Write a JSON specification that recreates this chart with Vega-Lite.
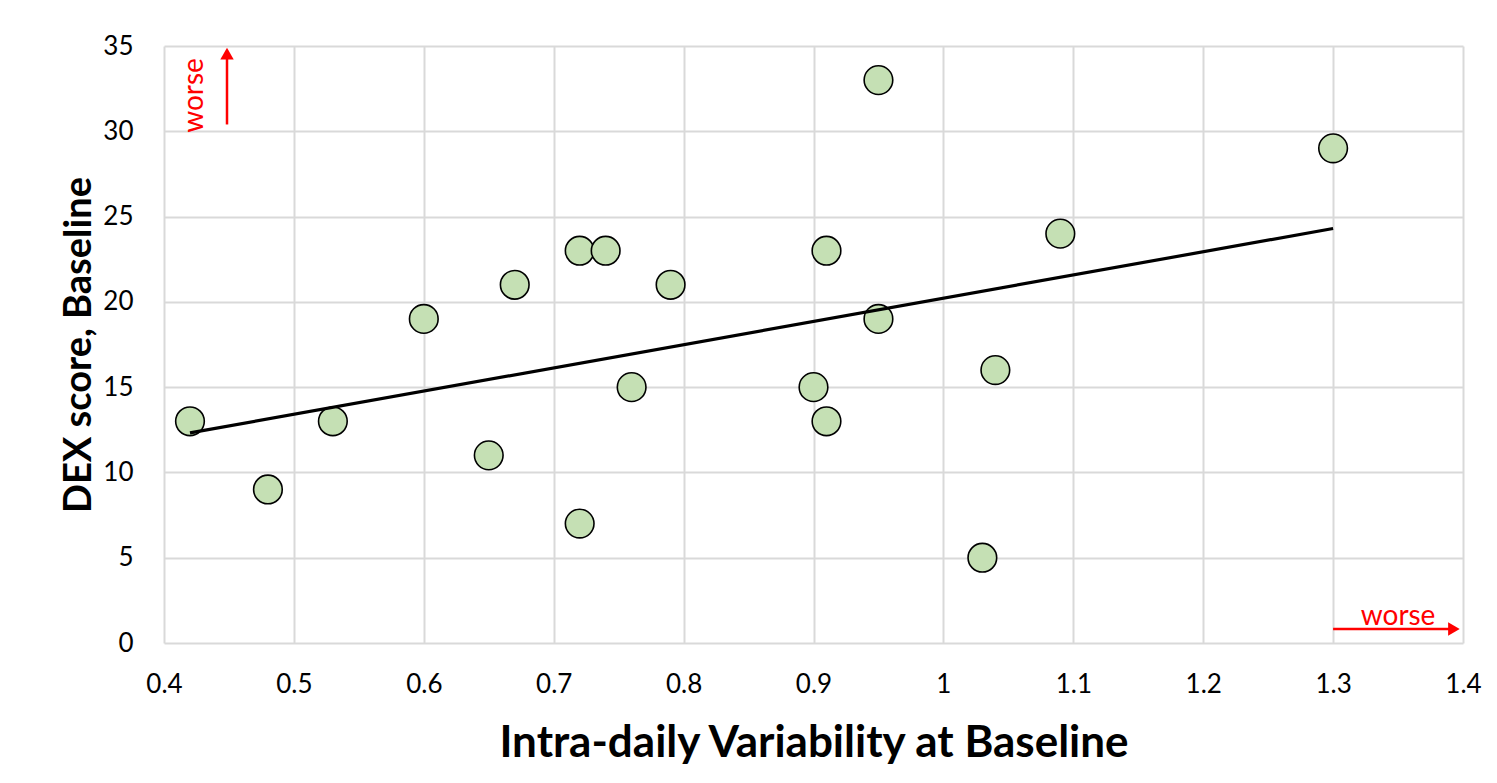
{
  "$schema": "https://vega.github.io/schema/vega-lite/v6.json",
  "autosize": {"type": "none"},
  "width": 1299,
  "height": 597,
  "padding": {"left": 164, "top": 46, "right": 34, "bottom": 140},
  "background": "white",
  "config": {
    "font": "Lato",
    "view": {"stroke": null},
    "axis": {"gridColor": "#d9d9d9", "gridWidth": 2, "domain": false, "ticks": false, "labelColor": "#000000", "titleColor": "#000000", "labelFont": "Lato", "titleFont": "Lato", "labelFontSize": 26, "labelFontWeight": "normal"}
  },
  "datasets": {
    "pts": [
      {"iv": 0.42, "dex": 13}, {"iv": 0.48, "dex": 9}, {"iv": 0.53, "dex": 13},
      {"iv": 0.60, "dex": 19}, {"iv": 0.65, "dex": 11}, {"iv": 0.67, "dex": 21},
      {"iv": 0.72, "dex": 23}, {"iv": 0.72, "dex": 7}, {"iv": 0.74, "dex": 23},
      {"iv": 0.76, "dex": 15}, {"iv": 0.79, "dex": 21}, {"iv": 0.90, "dex": 15},
      {"iv": 0.91, "dex": 23}, {"iv": 0.91, "dex": 13}, {"iv": 0.95, "dex": 33},
      {"iv": 0.95, "dex": 19}, {"iv": 1.03, "dex": 5}, {"iv": 1.04, "dex": 16},
      {"iv": 1.09, "dex": 24}, {"iv": 1.30, "dex": 29}
    ],
    "arrows": [
      {"x1": 0.4485, "y1": 30.4, "x2": 0.4485, "y2": 34.4},
      {"x1": 1.3, "y1": 0.82, "x2": 1.392, "y2": 0.82}
    ],
    "heads": [
      {"x": 0.4485, "y": 34.55, "shape": "triangle-up"},
      {"x": 1.393, "y": 0.82, "shape": "triangle-right"}
    ],
    "labels": [
      {"x": 0.4235, "y": 32.1, "text": "worse", "angle": 270},
      {"x": 1.35, "y": 1.5, "text": "worse", "angle": 0}
    ]
  },
  "layer": [
    {
      "data": {"name": "pts"},
      "mark": {"type": "point", "filled": true, "fill": "#c5e0b4", "stroke": "#000000", "strokeWidth": 1.6, "opacity": 1, "size": 820},
      "encoding": {
        "x": {"field": "iv", "type": "quantitative", "scale": {"domain": [0.4, 1.4], "nice": false, "zero": false}, "axis": {"title": "Intra-daily Variability at Baseline", "titleFontSize": 44, "titleFontWeight": "bold", "titlePadding": 24, "labelPadding": 28, "format": "~g", "values": [0.4, 0.5, 0.6, 0.7, 0.8, 0.9, 1, 1.1, 1.2, 1.3, 1.4], "labelFlush": false}},
        "y": {"field": "dex", "type": "quantitative", "scale": {"domain": [0, 35], "nice": false}, "axis": {"title": "DEX score, Baseline", "titleFontSize": 38, "titleFontWeight": "bold", "titlePadding": 4, "labelPadding": 31, "values": [0, 5, 10, 15, 20, 25, 30, 35], "labelFlush": false}}
      }
    },
    {
      "data": {"name": "pts"},
      "transform": [{"regression": "dex", "on": "iv", "extent": [0.42, 1.3]}],
      "mark": {"type": "line", "color": "#000000", "strokeWidth": 3.2},
      "encoding": {
        "x": {"field": "iv", "type": "quantitative"},
        "y": {"field": "dex", "type": "quantitative"}
      }
    },
    {
      "data": {"name": "arrows"},
      "mark": {"type": "rule", "color": "#ff0000", "strokeWidth": 2.5},
      "encoding": {
        "x": {"field": "x1", "type": "quantitative"},
        "y": {"field": "y1", "type": "quantitative"},
        "x2": {"field": "x2"},
        "y2": {"field": "y2"}
      }
    },
    {
      "data": {"name": "heads"},
      "mark": {"type": "point", "filled": true, "color": "#ff0000", "opacity": 1, "size": 180},
      "encoding": {
        "x": {"field": "x", "type": "quantitative"},
        "y": {"field": "y", "type": "quantitative"},
        "shape": {"field": "shape", "type": "nominal", "scale": null}
      }
    },
    {
      "data": {"name": "labels"},
      "mark": {"type": "text", "color": "#ff0000", "fontSize": 28, "font": "Lato", "align": "center", "baseline": "middle"},
      "encoding": {
        "x": {"field": "x", "type": "quantitative"},
        "y": {"field": "y", "type": "quantitative"},
        "text": {"field": "text"},
        "angle": {"field": "angle", "type": "quantitative", "scale": null}
      }
    }
  ]
}
